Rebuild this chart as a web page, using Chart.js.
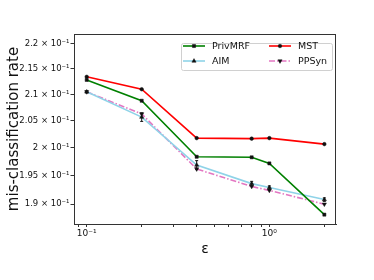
<!DOCTYPE html>
<html lang="en">
<head>
  <meta charset="UTF-8">
  <title>mis-classification rate vs epsilon</title>
  <script src="https://cdn.jsdelivr.net/npm/chart.js"></script>
  <style>
    body { margin: 0; background: #fff; font-family: "DejaVu Sans", sans-serif; }
    #wrap { width: 374px; height: 280px; }
  </style>
</head>
<body>
  <div id="wrap"><canvas id="errChart" width="374" height="280"></canvas></div>
  <script>
    const epsilons = [0.1, 0.2, 0.4, 0.8, 1.0, 2.0];
    const privMRF = [0.2128, 0.2088, 0.1984, 0.1983, 0.1972, 0.1882];
    const mst = [0.2134, 0.2110, 0.2018, 0.2017, 0.2018, 0.2007];
    const aim = [0.2105, 0.2057, 0.1969, 0.1936, 0.1929, 0.1908];
    const aimErr = [0.0002, 0.0008, 0.0008, 0.0004, 0.0003, 0.0003];
    const ppsyn = [0.2105, 0.2063, 0.1962, 0.1931, 0.1924, 0.1900];
    const yTicks = [0.19, 0.195, 0.2, 0.205, 0.21, 0.215, 0.22];
    const yTickLabels = ['1.9 × 10⁻¹', '1.95 × 10⁻¹', '2 × 10⁻¹', '2.05 × 10⁻¹', '2.1 × 10⁻¹', '2.15 × 10⁻¹', '2.2 × 10⁻¹'];
    const xTicks = [0.09, 0.1, 0.2, 0.3, 0.4, 0.5, 0.6, 0.7, 0.8, 0.9, 1, 2];
    const xMajorLabels = { 0.1: '10⁻¹', 1: '10⁰' };

    const font = '"DejaVu Sans", sans-serif';

    function series(label, values, color, style, dash) {
      return {
        label: label,
        data: values.map((v, i) => ({ x: epsilons[i], y: v })),
        borderColor: color,
        backgroundColor: '#111',
        borderWidth: 1.6,
        borderDash: dash || [],
        pointStyle: style.shape,
        rotation: style.rotation || 0,
        pointRadius: style.radius,
        pointBorderColor: '#111',
        pointBackgroundColor: '#111',
        pointBorderWidth: 0.5,
        tension: 0
      };
    }

    const datasets = [
      series('PrivMRF', privMRF, '#008000', { shape: 'rect', radius: 2.2 }),
      series('MST', mst, '#ff0000', { shape: 'circle', radius: 1.8 }),
      series('AIM', aim, '#8fd3e8', { shape: 'triangle', radius: 2.4 }),
      series('PPSyn', ppsyn, '#e377c2', { shape: 'triangle', radius: 2.4, rotation: 180 }, [6, 2, 1.5, 2])
    ];

    // frame, error bars and a matplotlib-style legend box
    const extras = {
      id: 'extras',
      afterDatasetsDraw(chart) {
        const ctx = chart.ctx;
        const x = chart.scales.x, y = chart.scales.y;
        ctx.save();
        ctx.strokeStyle = '#111';
        ctx.lineWidth = 1;
        aim.forEach((v, i) => {
          const px = x.getPixelForValue(epsilons[i]);
          const top = y.getPixelForValue(v + aimErr[i]);
          const bot = y.getPixelForValue(v - aimErr[i]);
          ctx.beginPath();
          ctx.moveTo(px, top); ctx.lineTo(px, bot);
          ctx.moveTo(px - 1.5, top); ctx.lineTo(px + 1.5, top);
          ctx.moveTo(px - 1.5, bot); ctx.lineTo(px + 1.5, bot);
          ctx.stroke();
        });
        ctx.restore();
      },
      afterDraw(chart) {
        const ctx = chart.ctx;
        const a = chart.chartArea;
        ctx.save();
        ctx.strokeStyle = '#333';
        ctx.lineWidth = 1;
        ctx.strokeRect(a.left + 0.5, a.top + 0.5, a.right - a.left - 1, a.bottom - a.top);

        // legend
        const bw = 151, bh = 27;
        const bx = a.right - 4 - bw, by = a.top + 9;
        ctx.fillStyle = 'rgba(255,255,255,0.85)';
        ctx.strokeStyle = '#d0d0d0';
        ctx.beginPath();
        ctx.roundRect(bx + 0.5, by + 0.5, bw, bh, 2);
        ctx.fill();
        ctx.stroke();
        const cols = [bx + 2, bx + 88];
        const rows = [by + 3, by + 18];
        ctx.font = '9.5px ' + font;
        ctx.textBaseline = 'middle';
        chart.data.datasets.forEach((ds, k) => {
          const lx = cols[k % 2], ly = rows[Math.floor(k / 2)];
          ctx.strokeStyle = ds.borderColor;
          ctx.lineWidth = ds.borderWidth;
          ctx.setLineDash(ds.borderDash);
          ctx.beginPath();
          ctx.moveTo(lx, ly); ctx.lineTo(lx + 22, ly);
          ctx.stroke();
          ctx.setLineDash([]);
          ctx.fillStyle = '#111';
          ctx.strokeStyle = '#111';
          ctx.lineWidth = 0.5;
          Chart.helpers.drawPoint(ctx, {
            pointStyle: ds.pointStyle, rotation: ds.rotation,
            radius: ds.pointRadius, borderWidth: 0.5
          }, lx + 11, ly);
          ctx.fillText(ds.label, lx + 29, ly + 0.5);
        });
        ctx.restore();
      }
    };

    const ctx = document.getElementById('errChart').getContext('2d');
    new Chart(ctx, {
      type: 'line',
      data: { datasets: datasets },
      options: {
        responsive: false,
        animation: false,
        layout: { padding: { left: 0, right: 38, top: 34, bottom: 0 } },
        plugins: {
          legend: { display: false },
          tooltip: { enabled: false }
        },
        scales: {
          x: {
            type: 'logarithmic',
            min: 0.0852,
            max: 2.316,
            afterBuildTicks: s => { s.ticks = xTicks.map(v => ({ value: v, major: v in xMajorLabels })); },
            afterFit: s => { s.height = 56; },
            grid: { drawOnChartArea: false, drawTicks: true, tickLength: 3, tickColor: '#333', color: '#333' },
            border: { display: true, color: '#333', width: 1 },
            ticks: {
              autoSkip: false,
              maxRotation: 0,
              padding: 1,
              color: '#111',
              font: { family: font, size: 9 },
              callback: v => xMajorLabels[v] || ''
            },
            title: {
              display: true,
              text: 'ε',
              color: '#111',
              font: { family: font, size: 14 },
              padding: { top: 0, bottom: 22 }
            }
          },
          y: {
            type: 'logarithmic',
            min: 0.1866,
            max: 0.2219,
            afterBuildTicks: s => { s.ticks = yTicks.map(v => ({ value: v })); },
            afterFit: s => { s.width = 74; },
            grid: { drawOnChartArea: false, drawTicks: true, tickLength: 3.5, tickColor: '#333', color: '#333' },
            border: { display: true, color: '#333', width: 1 },
            ticks: {
              autoSkip: false,
              padding: 1,
              color: '#111',
              font: { family: font, size: 8.5 },
              callback: (v, i) => yTickLabels[i]
            },
            title: {
              display: true,
              text: 'mis-classification rate',
              color: '#111',
              font: { family: font, size: 15 },
              padding: { top: 5, bottom: 0 }
            }
          }
        }
      },
      plugins: [extras]
    });
  </script>
</body>
</html>
